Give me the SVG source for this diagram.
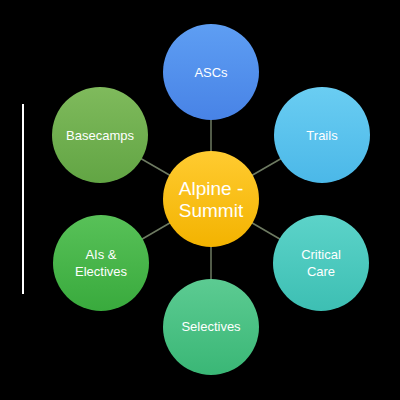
<svg xmlns="http://www.w3.org/2000/svg" width="400" height="400" viewBox="0 0 400 400">
<style>
.lbl{font-family:"Liberation Sans",Arial,sans-serif;font-size:13px;fill:#ffffff;text-anchor:middle}
.ctr{font-family:"Liberation Sans",Arial,sans-serif;font-size:19px;fill:#ffffff;text-anchor:middle}
.conn line{stroke:#6e7b62;stroke-width:1.5}
</style>
<defs>
<linearGradient id="gBlue" x1="0" y1="0" x2="0" y2="1"><stop offset="0" stop-color="#5e9ef3"/><stop offset="1" stop-color="#4883e6"/></linearGradient>
<linearGradient id="gSky" x1="0" y1="0" x2="0" y2="1"><stop offset="0" stop-color="#6acdf2"/><stop offset="1" stop-color="#4bb8e8"/></linearGradient>
<linearGradient id="gTeal" x1="0" y1="0" x2="0" y2="1"><stop offset="0" stop-color="#5cd3c9"/><stop offset="1" stop-color="#3dbfb3"/></linearGradient>
<linearGradient id="gMint" x1="0" y1="0" x2="0" y2="1"><stop offset="0" stop-color="#5ccb92"/><stop offset="1" stop-color="#3ab776"/></linearGradient>
<linearGradient id="gGreen" x1="0" y1="0" x2="0" y2="1"><stop offset="0" stop-color="#58c158"/><stop offset="1" stop-color="#39aa3d"/></linearGradient>
<linearGradient id="gOlive" x1="0" y1="0" x2="0" y2="1"><stop offset="0" stop-color="#7fba5c"/><stop offset="1" stop-color="#62a544"/></linearGradient>
<linearGradient id="gGold" x1="0" y1="0" x2="0" y2="1"><stop offset="0" stop-color="#ffcb30"/><stop offset="1" stop-color="#f3b300"/></linearGradient>
</defs>
<rect x="0" y="0" width="400" height="400" fill="#000000"/>
<line x1="23" y1="104" x2="23" y2="294" stroke="#ffffff" stroke-width="2"/>
<g class="conn" id="connectors">
<line x1="211" y1="199" x2="211" y2="72"/>
<line x1="211" y1="199" x2="322" y2="135"/>
<line x1="211" y1="199" x2="321" y2="263"/>
<line x1="211" y1="199" x2="211" y2="327"/>
<line x1="211" y1="199" x2="101" y2="263"/>
<line x1="211" y1="199" x2="100" y2="135"/>
</g>
<g id="node-ascs"><circle cx="211" cy="72" r="48" fill="url(#gBlue)"/><text class="lbl" x="211" y="77">ASCs</text></g>
<g id="node-trails"><circle cx="322" cy="135" r="48" fill="url(#gSky)"/><text class="lbl" x="322" y="140">Trails</text></g>
<g id="node-critical"><circle cx="321" cy="263" r="48" fill="url(#gTeal)"/><text class="lbl" x="321" y="259">Critical</text><text class="lbl" x="321" y="276">Care</text></g>
<g id="node-selectives"><circle cx="211" cy="327" r="48" fill="url(#gMint)"/><text class="lbl" x="211" y="331">Selectives</text></g>
<g id="node-ais"><circle cx="101" cy="263" r="48" fill="url(#gGreen)"/><text class="lbl" x="101" y="259">AIs &amp;</text><text class="lbl" x="101" y="276">Electives</text></g>
<g id="node-basecamps"><circle cx="100" cy="135" r="48" fill="url(#gOlive)"/><text class="lbl" x="100" y="140">Basecamps</text></g>
<g id="node-center"><circle cx="211" cy="199" r="48" fill="url(#gGold)"/><text class="ctr" x="211" y="195">Alpine -</text><text class="ctr" x="211" y="217">Summit</text></g>
</svg>
